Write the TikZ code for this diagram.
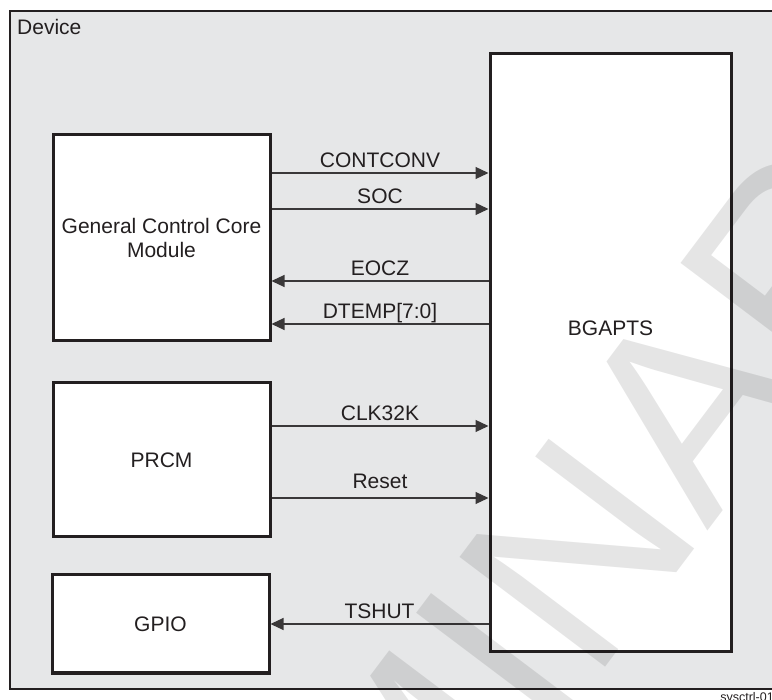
\documentclass[tikz,border=0pt]{standalone}
\usepackage{fontspec}
\setmainfont{Liberation Sans}
\usepackage{tikz}
\usetikzlibrary{arrows.meta, positioning}

\definecolor{ink}{HTML}{231F20}
\definecolor{wire}{HTML}{3A3839}
\definecolor{devgray}{HTML}{E6E7E8}

\begin{document}
\begin{tikzpicture}[
    x=1pt, y=-1pt,
    device/.style={draw=ink, line width=2pt, fill=devgray, anchor=north west},
    block/.style={draw=ink, line width=3pt, fill=white, minimum width=217pt, align=center, font=\fontsize{21}{24}\selectfont, text=ink},
    signal/.style={draw=wire, line width=1.2pt},
    siglabel/.style={midway, above, inner sep=4.5pt, font=\fontsize{21}{24}\selectfont, text=ink, text height=15pt, text depth=0pt}
  ]
    \useasboundingbox (0,0) rectangle (772,700);

    \node[device, minimum width=767pt, minimum height=678pt] (device) at (9,10) {};
    \node[anchor=base west, inner sep=0pt, font=\fontsize{21}{24}\selectfont, text=ink] (devlabel) at (17,35) {Device};

    \node[block, minimum height=206pt] (gccm) at (161.5,238) {General Control Core\\Module};
    \node[block, minimum height=154pt] (prcm) at (161.5,460) {PRCM};
    \node[block, minimum height=98pt] (gpio) at (160.5,624) {GPIO};
    \node[block, minimum width=241pt, minimum height=598pt] (bgapts) at (610.5,353) {};
    \node[font=\fontsize{21}{24}\selectfont, text=ink] (bgaptslabel) at (610.5,328) {BGAPTS};

    % signals between the blocks
    \draw[signal, -{Triangle[length=13pt,width=12pt]}] (gccm.east|-0,173) -- node[siglabel] {CONTCONV} (bgapts.west|-0,173);
    \draw[signal, -{Triangle[length=13pt,width=12pt]}] (gccm.east|-0,209) -- node[siglabel] {SOC} (bgapts.west|-0,209);
    \draw[signal, -{Triangle[length=13pt,width=12pt]}] (bgapts.west|-0,281) -- node[siglabel] {EOCZ} (gccm.east|-0,281);
    \draw[signal, -{Triangle[length=13pt,width=12pt]}] (bgapts.west|-0,324) -- node[siglabel] {DTEMP[7:0]} (gccm.east|-0,324);
    \draw[signal, -{Triangle[length=13pt,width=12pt]}] (prcm.east|-0,426) -- node[siglabel] {CLK32K} (bgapts.west|-0,426);
    \draw[signal, -{Triangle[length=13pt,width=12pt]}] (prcm.east|-0,498) -- node[siglabel, yshift=4pt] {Reset} (bgapts.west|-0,498);
    \draw[signal, -{Triangle[length=13pt,width=12pt]}] (bgapts.west|-0,624) -- node[siglabel] {TSHUT} (gpio.east|-0,624);

    % watermark
    \node[rotate=53, anchor=base west, inner sep=0pt, text=black, text opacity=0.1, font=\fontsize{265}{265}\selectfont] (wmark) at (-46,1531) {PRELIMINARY};

    \node[anchor=base east, inner sep=0pt, font=\fontsize{12.5}{14}\selectfont, text=ink] (figid) at (774,701) {sysctrl-01};
\end{tikzpicture}
\end{document}
